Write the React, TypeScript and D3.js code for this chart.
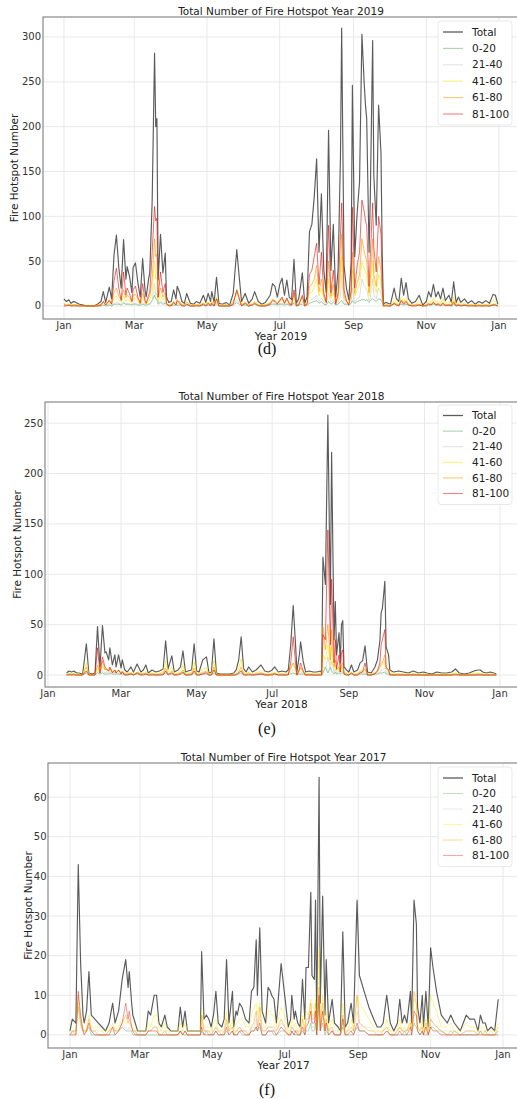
import React from "react";
import * as d3 from "d3";

// ================= 2019 =================
const DAYS_2019 = [
  0, 2, 4, 6, 8, 10, 13, 16, 20, 25,
  28, 31, 33, 35, 38, 40, 42, 44, 46, 48,
  50, 52, 53, 55, 57, 58, 60, 62, 64, 66,
  68, 69, 71, 72, 74, 76, 77, 78, 79, 81,
  83, 85, 86, 88, 90, 92, 94, 95, 97, 99,
  101, 103, 106, 109, 111, 114, 117, 119, 121, 123,
  124, 126, 128, 130, 133, 136, 139, 142, 145, 147,
  149, 152, 155, 158, 160, 163, 166, 169, 173, 175,
  177, 179, 181, 183, 185, 187, 189, 191, 193, 195,
  197, 200, 202, 204, 206, 208, 210, 212, 214, 216,
  218, 220, 222, 224, 226, 228, 230, 232, 233, 235,
  237, 239, 241, 242, 244, 246, 248, 250, 252, 253,
  254, 256, 257, 259, 260, 262, 264, 266, 267, 268,
  270, 272, 274, 277, 279, 281, 283, 285, 287, 289,
  292, 295, 298, 301, 304, 306, 308, 310, 312, 314,
  316, 318, 320, 323, 325, 327, 329, 331, 333, 336,
  339, 342, 345, 348, 351, 354, 357, 360, 362, 364,
];
const TOTAL_2019 = [
  8, 5, 7, 3, 5, 4, 2, 1, 0, 0,
  2, 5, 16, 4, 21, 8, 57, 79, 43, 20,
  74, 30, 44, 33, 15, 43, 48, 26, 10, 53,
  18, 10, 30, 37, 117, 282, 200, 209, 29, 80,
  37, 59, 10, 4, 5, 18, 8, 22, 15, 5,
  3, 14, 3, 2, 5, 3, 12, 4, 14, 5,
  16, 4, 32, 3, 2, 4, 1, 14, 63, 33,
  5, 14, 3, 8, 16, 5, 2, 4, 12, 25,
  22, 10, 24, 31, 12, 29, 10, 7, 52, 3,
  8, 37, 3, 10, 83, 91, 122, 164, 60, 125,
  40, 15, 196, 40, 91, 10, 40, 167, 310, 45,
  20, 7, 50, 246, 55, 104, 138, 303, 246, 224,
  209, 60, 119, 296, 145, 90, 224, 170, 60, 2,
  4, 3, 2, 20, 8, 5, 31, 12, 26, 8,
  3, 5, 12, 1, 5, 16, 10, 24, 10, 16,
  8, 20, 6, 12, 4, 27, 4, 10, 4, 8,
  3, 6, 2, 5, 3, 6, 3, 13, 12, 2,
];
const C0_20_2019 = [
  1, 1, 1, 0, 1, 1, 1, 1, 0, 0,
  0, 0, 1, 0, 1, 0, 2, 2, 2, 1,
  3, 2, 2, 2, 1, 2, 2, 1, 1, 2,
  1, 1, 2, 2, 6, 12, 8, 7, 2, 4,
  2, 3, 1, 1, 1, 1, 1, 1, 1, 1,
  0, 1, 0, 0, 1, 0, 1, 0, 1, 1,
  1, 0, 2, 0, 0, 0, 0, 1, 4, 2,
  1, 1, 0, 1, 2, 1, 0, 0, 1, 2,
  2, 1, 2, 2, 1, 2, 1, 1, 3, 0,
  1, 2, 0, 1, 3, 4, 5, 6, 3, 5,
  2, 1, 5, 2, 4, 1, 2, 5, 6, 2,
  2, 1, 3, 6, 3, 5, 6, 7, 7, 6,
  7, 4, 6, 8, 7, 5, 8, 7, 4, 0,
  1, 1, 0, 2, 1, 1, 2, 1, 2, 1,
  1, 1, 1, 0, 1, 1, 1, 2, 1, 1,
  1, 1, 1, 1, 0, 2, 0, 1, 1, 1,
  1, 1, 0, 1, 0, 1, 0, 1, 1, 0,
];
const C21_40_2019 = [
  2, 1, 2, 1, 1, 1, 0, 0, 0, 0,
  0, 1, 1, 1, 2, 1, 3, 4, 3, 2,
  4, 2, 3, 2, 1, 3, 3, 2, 1, 3,
  2, 1, 2, 3, 6, 25, 12, 14, 3, 6,
  3, 5, 1, 1, 1, 2, 2, 2, 2, 1,
  1, 2, 1, 1, 1, 1, 2, 1, 2, 1,
  2, 1, 4, 1, 1, 1, 1, 2, 7, 4,
  1, 2, 1, 1, 2, 1, 1, 1, 2, 3,
  3, 1, 3, 3, 2, 3, 1, 1, 5, 1,
  1, 4, 1, 1, 6, 7, 9, 12, 5, 9,
  4, 2, 15, 4, 7, 1, 4, 12, 35, 4,
  2, 1, 4, 20, 5, 8, 10, 30, 22, 20,
  18, 6, 9, 30, 12, 8, 20, 14, 6, 1,
  1, 1, 0, 3, 1, 1, 4, 2, 3, 1,
  1, 1, 2, 0, 1, 3, 2, 3, 2, 3,
  2, 3, 1, 2, 1, 4, 1, 2, 1, 2,
  1, 1, 0, 1, 1, 1, 1, 2, 2, 0,
];
const C41_60_2019 = [
  3, 2, 2, 1, 2, 1, 1, 0, 0, 0,
  1, 1, 4, 1, 5, 2, 9, 11, 7, 4,
  11, 5, 7, 6, 3, 8, 8, 5, 2, 9,
  3, 2, 5, 6, 15, 50, 30, 32, 5, 12,
  6, 10, 2, 1, 2, 5, 2, 5, 4, 2,
  1, 5, 1, 1, 2, 1, 4, 2, 4, 2,
  5, 2, 10, 1, 1, 2, 0, 5, 18, 10,
  2, 4, 1, 3, 5, 2, 1, 2, 4, 7,
  6, 3, 7, 8, 3, 7, 3, 2, 12, 1,
  3, 9, 1, 3, 15, 15, 22, 30, 11, 20,
  8, 4, 30, 8, 15, 3, 8, 28, 55, 9,
  4, 2, 10, 40, 11, 18, 24, 50, 40, 38,
  35, 11, 20, 50, 25, 15, 35, 28, 10, 1,
  1, 1, 1, 7, 3, 2, 10, 4, 9, 3,
  1, 2, 5, 0, 2, 6, 4, 9, 4, 6,
  3, 8, 2, 5, 2, 10, 2, 4, 2, 3,
  1, 2, 1, 2, 1, 2, 1, 6, 5, 1,
];
const C61_80_2019 = [
  2, 1, 1, 1, 1, 1, 0, 0, 0, 0,
  1, 2, 5, 1, 7, 3, 15, 20, 11, 7,
  18, 9, 12, 9, 5, 12, 13, 8, 3, 14,
  6, 3, 9, 11, 30, 75, 55, 58, 9, 20,
  10, 15, 3, 1, 1, 5, 2, 7, 5, 1,
  1, 4, 1, 0, 1, 1, 3, 1, 4, 1,
  4, 1, 8, 1, 0, 1, 0, 4, 16, 9,
  1, 4, 1, 2, 4, 1, 0, 1, 3, 7,
  6, 3, 6, 8, 3, 8, 3, 2, 14, 1,
  2, 10, 1, 3, 22, 24, 30, 45, 16, 30,
  11, 4, 50, 11, 24, 3, 11, 42, 80, 12,
  5, 2, 13, 60, 14, 26, 35, 75, 60, 55,
  50, 15, 30, 75, 35, 22, 55, 40, 15, 0,
  1, 0, 0, 4, 2, 1, 7, 3, 6, 2,
  0, 1, 2, 0, 1, 3, 2, 5, 2, 3,
  1, 4, 1, 2, 1, 6, 1, 2, 0, 1,
  0, 1, 0, 1, 0, 1, 0, 2, 2, 0,
];
const C81_100_2019 = [
  0, 0, 1, 0, 0, 0, 0, 0, 0, 0,
  0, 1, 5, 1, 6, 2, 28, 42, 20, 6,
  38, 12, 20, 14, 5, 18, 22, 10, 3, 25,
  6, 3, 12, 15, 60, 111, 95, 98, 10, 38,
  15, 25, 3, 0, 0, 4, 1, 6, 3, 0,
  0, 2, 0, 0, 0, 0, 2, 0, 3, 0,
  3, 0, 8, 0, 0, 0, 0, 2, 18, 8,
  0, 3, 0, 1, 3, 0, 0, 0, 2, 6,
  5, 2, 6, 10, 3, 9, 2, 1, 18, 0,
  1, 12, 0, 2, 35, 40, 55, 70, 24, 60,
  15, 4, 90, 15, 40, 2, 15, 80, 115, 18,
  6, 1, 18, 110, 20, 45, 60, 118, 105, 95,
  90, 22, 55, 115, 65, 38, 100, 80, 25, 0,
  0, 0, 0, 3, 1, 0, 6, 2, 5, 1,
  0, 0, 1, 0, 0, 2, 1, 4, 1, 2,
  0, 3, 0, 1, 0, 4, 0, 1, 0, 1,
  0, 0, 0, 0, 0, 0, 0, 1, 1, 0,
];

// ================= 2018 =================
const DAYS_2018 = [
  15, 17, 19, 21, 23, 25, 28, 31, 33, 36,
  38, 40, 42, 44, 46, 47, 49, 50, 52, 54,
  55, 57, 59, 60, 62, 64, 67, 69, 72, 75,
  77, 79, 81, 84, 87, 90, 93, 95, 97, 100,
  102, 105, 107, 109, 111, 113, 116, 118, 120, 122,
  125, 127, 128, 130, 132, 134, 136, 139, 143, 147,
  150, 152, 154, 156, 158, 160, 162, 165, 168, 172,
  175, 178, 181, 183, 186, 189, 192, 194, 196, 198,
  200, 201, 203, 204, 206, 208, 211, 214, 217, 220,
  221, 222, 224, 226, 228, 229, 231, 232, 233, 235,
  236, 237, 238, 239, 241, 243, 245, 247, 250, 252,
  254, 256, 258, 261, 264, 266, 268, 269, 270, 272,
  273, 275, 276, 279, 283, 287, 291, 295, 299, 303,
  306, 310, 314, 318, 322, 326, 329, 332, 336, 340,
  344, 347, 349, 351, 354, 357, 360, 362,
];
const TOTAL_2018 = [
  2, 4, 3, 4, 2, 2, 1, 31, 2, 1,
  2, 48, 8, 49, 22, 23, 15, 27, 10, 20,
  8, 20, 7, 15, 5, 3, 8, 3, 11, 3,
  5, 10, 2, 5, 3, 4, 6, 34, 6, 19,
  3, 5, 8, 24, 3, 4, 5, 31, 4, 3,
  15, 17, 18, 2, 3, 36, 2, 1, 1, 1,
  2, 5, 15, 38, 6, 3, 8, 3, 5, 10,
  4, 3, 5, 8, 3, 4, 3, 5, 30, 69,
  28, 3, 20, 33, 14, 3, 4, 3, 3, 4,
  2, 117, 90, 258, 70, 221, 35, 73, 20, 42,
  12, 50, 54, 8, 5, 3, 10, 3, 5, 12,
  14, 29, 3, 2, 8, 15, 34, 62, 66, 93,
  28, 20, 5, 3, 4, 3, 2, 4, 2, 3,
  2, 1, 3, 2, 2, 3, 6, 2, 1, 2,
  4, 5, 5, 3, 2, 3, 2, 1,
];
const C0_20_2018 = [
  0, 1, 1, 1, 0, 0, 0, 2, 0, 0,
  0, 2, 1, 2, 1, 1, 1, 2, 1, 1,
  1, 1, 1, 1, 0, 0, 1, 0, 1, 0,
  1, 1, 0, 1, 0, 0, 1, 2, 1, 1,
  0, 1, 1, 2, 0, 0, 1, 2, 0, 0,
  1, 1, 1, 0, 0, 2, 0, 0, 0, 0,
  0, 1, 1, 2, 1, 0, 1, 0, 1, 1,
  0, 0, 1, 1, 0, 0, 0, 1, 1, 2,
  1, 0, 1, 1, 1, 0, 0, 0, 0, 0,
  0, 2, 8, 2, 8, 4, 1, 3, 1, 2,
  1, 2, 2, 1, 0, 0, 1, 0, 0, 1,
  1, 1, 0, 0, 1, 1, 2, 2, 2, 3,
  1, 1, 0, 0, 0, 0, 0, 0, 0, 0,
  0, 0, 0, 0, 0, 0, 1, 0, 0, 0,
  0, 0, 0, 0, 0, 0, 0, 0,
];
const C21_40_2018 = [
  1, 1, 1, 1, 0, 1, 0, 4, 1, 0,
  0, 3, 1, 4, 2, 3, 2, 3, 1, 3,
  1, 2, 1, 2, 1, 1, 1, 1, 2, 1,
  1, 2, 1, 1, 1, 1, 1, 5, 1, 3,
  1, 1, 1, 3, 1, 1, 1, 4, 1, 1,
  2, 3, 3, 1, 1, 5, 1, 0, 0, 0,
  1, 1, 2, 5, 1, 1, 1, 1, 1, 2,
  1, 1, 1, 1, 1, 1, 1, 1, 3, 5,
  3, 1, 2, 3, 2, 1, 1, 1, 1, 1,
  1, 8, 6, 18, 5, 14, 3, 6, 2, 4,
  1, 4, 4, 1, 1, 1, 2, 1, 1, 2,
  2, 2, 1, 1, 1, 2, 3, 5, 5, 7,
  3, 2, 1, 1, 1, 1, 0, 1, 0, 1,
  0, 0, 1, 0, 0, 1, 1, 0, 0, 0,
  1, 1, 1, 1, 0, 1, 0, 0,
];
const C41_60_2018 = [
  1, 1, 1, 1, 1, 1, 0, 12, 1, 0,
  1, 6, 2, 9, 5, 6, 4, 6, 3, 5,
  2, 5, 2, 4, 2, 1, 3, 1, 3, 1,
  2, 4, 1, 2, 1, 2, 3, 14, 3, 8,
  1, 2, 3, 10, 1, 2, 2, 13, 2, 1,
  6, 7, 7, 1, 1, 14, 1, 0, 0, 0,
  1, 2, 6, 16, 3, 1, 3, 1, 2, 4,
  1, 1, 2, 3, 1, 2, 1, 2, 8, 12,
  6, 1, 5, 8, 4, 1, 2, 1, 1, 2,
  1, 20, 15, 30, 10, 28, 6, 10, 4, 6,
  3, 8, 8, 2, 2, 1, 3, 1, 2, 4,
  4, 6, 1, 1, 3, 4, 8, 10, 10, 14,
  6, 5, 2, 1, 1, 1, 1, 1, 1, 1,
  1, 0, 1, 1, 1, 1, 2, 1, 0, 1,
  2, 2, 2, 1, 1, 1, 1, 0,
];
const C61_80_2018 = [
  0, 1, 0, 1, 0, 0, 0, 8, 0, 0,
  0, 10, 2, 14, 5, 6, 4, 7, 3, 5,
  2, 5, 2, 4, 1, 1, 2, 0, 3, 1,
  1, 2, 0, 1, 0, 1, 1, 7, 1, 4,
  0, 1, 2, 5, 0, 1, 1, 7, 1, 0,
  3, 3, 4, 0, 1, 8, 0, 0, 0, 0,
  0, 1, 3, 8, 1, 0, 2, 0, 1, 2,
  1, 0, 1, 2, 0, 1, 0, 1, 6, 12,
  6, 0, 4, 7, 3, 0, 1, 0, 0, 1,
  0, 48, 25, 50, 15, 45, 8, 15, 5, 8,
  3, 10, 12, 2, 1, 0, 2, 0, 1, 3,
  3, 6, 0, 0, 2, 4, 8, 12, 12, 20,
  6, 4, 1, 0, 1, 0, 0, 1, 0, 0,
  0, 0, 0, 0, 0, 0, 1, 0, 0, 0,
  0, 1, 1, 0, 0, 0, 0, 0,
];
const C81_100_2018 = [
  0, 0, 0, 0, 0, 0, 0, 4, 0, 0,
  0, 27, 2, 18, 8, 6, 4, 8, 2, 5,
  2, 5, 1, 3, 0, 0, 1, 0, 2, 0,
  0, 1, 0, 0, 0, 0, 0, 4, 0, 2,
  0, 0, 1, 3, 0, 0, 0, 4, 0, 0,
  1, 2, 2, 0, 0, 5, 0, 0, 0, 0,
  0, 0, 2, 4, 0, 0, 0, 0, 0, 1,
  0, 0, 0, 1, 0, 0, 0, 0, 12, 38,
  10, 0, 6, 12, 4, 0, 0, 0, 0, 0,
  0, 40, 35, 144, 30, 95, 12, 35, 6, 20,
  3, 22, 25, 1, 0, 0, 2, 0, 0, 2,
  3, 12, 0, 0, 1, 4, 12, 30, 35, 45,
  8, 5, 0, 0, 0, 0, 0, 0, 0, 0,
  0, 0, 0, 0, 0, 0, 0, 0, 0, 0,
  0, 0, 0, 0, 0, 0, 0, 0,
];

// ================= 2017 =================
const DAYS_2017 = [
  0, 2, 5, 7, 9, 11, 12, 14, 16, 18,
  21, 24, 27, 30, 33, 36, 38, 41, 44, 47,
  49, 50, 52, 53, 55, 57, 60, 64, 66, 68,
  71, 73, 75, 77, 80, 82, 85, 88, 91, 93,
  95, 97, 99, 103, 107, 110, 111, 113, 115, 117,
  119, 121, 123, 125, 128, 130, 132, 134, 137, 138,
  140, 141, 143, 145, 148, 151, 153, 155, 157, 158,
  160, 162, 165, 167, 169, 170, 172, 174, 178, 181,
  184, 186, 187, 189, 190, 192, 194, 196, 198, 199,
  201, 203, 204, 206, 207, 208, 210, 211, 213, 215,
  216, 218, 221, 223, 226, 228, 230, 232, 234, 237,
  239, 242, 244, 248, 252, 256, 259, 262, 264, 267,
  270, 273, 276, 278, 280, 282, 284, 287, 288, 290,
  292, 293, 295, 297, 298, 300, 302, 304, 306, 309,
  313, 318, 321, 324, 329, 334, 337, 341, 344, 346,
  348, 350, 352, 355, 358, 361,
];
const TOTAL_2017 = [
  1, 4, 3, 43, 18, 5, 3, 6, 16, 5,
  4, 3, 2, 1, 3, 8, 3, 6, 14, 19,
  12, 16, 8, 5, 3, 1, 1, 1, 6, 5,
  10, 10, 3, 2, 5, 2, 1, 1, 1, 7,
  2, 6, 1, 1, 1, 1, 21, 4, 5, 4,
  2, 5, 11, 3, 2, 4, 19, 3, 11, 2,
  6, 5, 8, 7, 4, 3, 11, 12, 24, 10,
  27, 6, 3, 12, 11, 10, 9, 3, 18, 10,
  2, 4, 10, 4, 6, 3, 2, 14, 4, 17,
  17, 36, 15, 14, 34, 3, 65, 8, 35, 5,
  19, 3, 9, 3, 2, 1, 26, 2, 3, 8,
  3, 34, 15, 11, 7, 4, 2, 2, 3, 10,
  3, 1, 3, 9, 3, 5, 3, 11, 3, 34,
  28, 7, 3, 10, 2, 11, 2, 22, 17, 11,
  5, 3, 5, 3, 1, 5, 4, 4, 1, 5,
  3, 3, 1, 2, 1, 9,
];
const C0_20_2017 = [
  0, 1, 1, 7, 3, 1, 1, 1, 2, 0,
  0, 0, 0, 0, 0, 0, 0, 1, 2, 1,
  1, 1, 1, 0, 0, 0, 0, 0, 0, 0,
  0, 0, 0, 0, 0, 0, 0, 0, 0, 1,
  0, 0, 0, 0, 0, 0, 1, 0, 1, 0,
  0, 0, 1, 0, 0, 0, 1, 0, 1, 0,
  0, 0, 1, 0, 0, 0, 1, 1, 2, 1,
  2, 0, 0, 1, 1, 1, 0, 0, 1, 1,
  0, 0, 1, 0, 0, 0, 0, 1, 0, 1,
  1, 3, 1, 1, 3, 0, 8, 1, 3, 0,
  1, 0, 1, 0, 0, 0, 2, 0, 0, 0,
  0, 2, 1, 1, 0, 0, 0, 0, 0, 1,
  0, 0, 0, 0, 0, 1, 0, 0, 0, 3,
  2, 1, 0, 1, 0, 0, 0, 2, 2, 1,
  1, 0, 0, 1, 0, 0, 0, 0, 0, 1,
  0, 0, 0, 0, 0, 1,
];
const C21_40_2017 = [
  0, 1, 1, 7, 2, 1, 0, 1, 2, 1,
  1, 1, 1, 0, 1, 1, 1, 1, 2, 2,
  1, 2, 1, 1, 1, 0, 0, 0, 1, 1,
  2, 2, 1, 1, 1, 1, 0, 0, 0, 1,
  1, 1, 0, 0, 0, 0, 3, 1, 1, 1,
  1, 1, 2, 1, 1, 1, 3, 1, 2, 1,
  1, 1, 2, 1, 1, 1, 2, 2, 4, 2,
  5, 1, 1, 2, 2, 2, 1, 1, 3, 2,
  1, 1, 2, 1, 1, 1, 1, 2, 1, 3,
  3, 6, 2, 2, 5, 1, 10, 1, 6, 1,
  3, 1, 1, 1, 1, 0, 4, 1, 1, 1,
  1, 6, 3, 2, 2, 1, 1, 1, 1, 2,
  1, 0, 1, 2, 1, 1, 1, 2, 1, 5,
  5, 1, 1, 2, 1, 2, 1, 4, 3, 2,
  1, 1, 1, 1, 0, 1, 1, 1, 0, 1,
  1, 1, 0, 1, 0, 1,
];
const C41_60_2017 = [
  1, 1, 1, 8, 4, 1, 1, 2, 5, 2,
  2, 2, 1, 1, 1, 3, 1, 2, 4, 3,
  3, 3, 2, 2, 1, 1, 1, 1, 3, 2,
  5, 5, 2, 1, 3, 1, 1, 1, 1, 3,
  1, 3, 1, 1, 1, 1, 6, 2, 2, 2,
  1, 3, 4, 1, 1, 2, 6, 1, 4, 1,
  3, 3, 4, 4, 2, 2, 5, 7, 8, 5,
  8, 3, 2, 6, 6, 5, 5, 2, 7, 5,
  1, 2, 4, 2, 3, 1, 1, 5, 2, 6,
  5, 9, 5, 5, 9, 1, 22, 3, 10, 2,
  6, 1, 4, 2, 1, 1, 8, 1, 1, 4,
  1, 10, 8, 6, 4, 2, 1, 1, 1, 4,
  1, 1, 1, 4, 1, 2, 1, 4, 1, 9,
  8, 2, 1, 4, 1, 4, 1, 10, 8, 6,
  2, 2, 3, 1, 1, 3, 2, 2, 1, 2,
  2, 1, 1, 1, 1, 3,
];
const C61_80_2017 = [
  0, 1, 0, 10, 4, 1, 1, 1, 4, 1,
  1, 0, 0, 0, 1, 2, 1, 1, 3, 5,
  3, 4, 2, 1, 1, 0, 0, 0, 1, 1,
  2, 2, 0, 0, 1, 0, 0, 0, 0, 1,
  0, 1, 0, 0, 0, 0, 5, 1, 1, 1,
  0, 1, 2, 1, 0, 1, 4, 1, 2, 0,
  1, 1, 2, 1, 1, 0, 2, 3, 6, 2,
  7, 1, 1, 2, 2, 2, 2, 1, 4, 2,
  0, 1, 2, 1, 1, 1, 0, 4, 1, 4,
  4, 8, 4, 4, 8, 1, 12, 2, 8, 1,
  4, 1, 2, 0, 0, 0, 5, 0, 1, 2,
  1, 10, 3, 2, 1, 1, 0, 0, 1, 2,
  0, 0, 1, 2, 1, 1, 1, 3, 1, 11,
  8, 2, 1, 2, 0, 3, 0, 4, 3, 2,
  1, 0, 1, 0, 0, 1, 1, 1, 0, 1,
  0, 1, 0, 0, 0, 2,
];
const C81_100_2017 = [
  0, 0, 0, 11, 5, 1, 0, 1, 3, 1,
  0, 0, 0, 0, 0, 2, 0, 1, 3, 8,
  4, 6, 2, 1, 0, 0, 0, 0, 1, 1,
  1, 1, 0, 0, 0, 0, 0, 0, 0, 1,
  0, 1, 0, 0, 0, 0, 2, 0, 0, 0,
  0, 0, 1, 0, 0, 0, 2, 0, 1, 0,
  0, 0, 1, 1, 0, 0, 1, 1, 2, 1,
  3, 0, 0, 1, 1, 1, 1, 0, 2, 1,
  0, 0, 1, 0, 1, 0, 0, 2, 0, 2,
  3, 6, 3, 3, 6, 0, 10, 1, 6, 1,
  3, 0, 1, 0, 0, 0, 4, 0, 0, 1,
  0, 3, 1, 1, 0, 0, 0, 0, 0, 1,
  0, 0, 0, 1, 0, 0, 0, 2, 0, 6,
  5, 1, 0, 1, 0, 2, 0, 2, 1, 1,
  0, 0, 0, 0, 0, 0, 0, 0, 0, 0,
  0, 0, 0, 0, 0, 0,
];

// ================= labels =================
const SERIES_NAMES = ["Total", "0-20", "21-40", "41-60", "61-80", "81-100"];
const SERIES_COLORS = ["#1c1c1c", "#2e9a3e", "#c8c8c8", "#f7ea00", "#ff9a00", "#e3120b"];
const SERIES_OPACITY = [0.72, 0.5, 0.6, 0.6, 0.65, 0.62];
const Y_TICKS_2019 = [0, 50, 100, 150, 200, 250, 300];
const Y_TICKS_2018 = [0, 50, 100, 150, 200, 250];
const Y_TICKS_2017 = [0, 10, 20, 30, 40, 50, 60];
const Y_LABEL = "Fire Hotspot Number";

type PanelCfg = {
  year: number;
  caption: string;
  days: number[];
  series: number[][];
  yTicks: number[];
  yDomain: [number, number];
  xDomain: [number, number];
  left: number;
  right: number;
  top: number;
  bottom: number;
  yLabelX: number;
  tickGap: number;
  captionY: number;
  legendTop: number;
  legendStep: number;
  legendFirst: number;
  fade: number;
};

const PANELS: PanelCfg[] = [
  {
    year: 2019, caption: "(d)", days: DAYS_2019,
    series: [TOTAL_2019, C0_20_2019, C21_40_2019, C41_60_2019, C61_80_2019, C81_100_2019],
    yTicks: Y_TICKS_2019, yDomain: [-14.5, 322.3], xDomain: [-17.6, 381.8],
    left: 43, right: 519, top: 17, bottom: 319, yLabelX: 14, tickGap: 2, captionY: 354,
    legendTop: 21, legendStep: 16.4, legendFirst: 11, fade: 1,
  },
  {
    year: 2018, caption: "(e)", days: DAYS_2018,
    series: [TOTAL_2018, C0_20_2018, C21_40_2018, C41_60_2018, C61_80_2018, C81_100_2018],
    yTicks: Y_TICKS_2018, yDomain: [-11.9, 271], xDomain: [-2.4, 379.5],
    left: 45, right: 518, top: 402, bottom: 687, yLabelX: 17, tickGap: 2, captionY: 734,
    legendTop: 405, legendStep: 15.6, legendFirst: 10.5, fade: 1,
  },
  {
    year: 2017, caption: "(f)", days: DAYS_2017,
    series: [TOTAL_2017, C0_20_2017, C21_40_2017, C41_60_2017, C61_80_2017, C81_100_2017],
    yTicks: Y_TICKS_2017, yDomain: [-3.3, 68.6], xDomain: [-18.5, 378.5],
    left: 48, right: 519, top: 763, bottom: 1048, yLabelX: 28, tickGap: 1.5, captionY: 1095,
    legendTop: 767, legendStep: 15.5, legendFirst: 11, fade: 0.7,
  },
];

const FONT = "DejaVu Sans, Verdana, sans-serif";
const DAY_MS = 86400000;

function Panel({ cfg }: { cfg: PanelCfg }) {
  const base = new Date(cfg.year, 0, 1).getTime();
  const toDate = (d: number) => new Date(base + d * DAY_MS);
  const x = d3.scaleTime()
    .domain([toDate(cfg.xDomain[0]), toDate(cfg.xDomain[1])])
    .range([cfg.left, cfg.right]);
  const y = d3.scaleLinear().domain(cfg.yDomain).range([cfg.bottom, cfg.top]);
  const xTicks = x.ticks(d3.timeMonth.every(2) as d3.TimeInterval);
  const fmt = d3.timeFormat("%b");
  const cx = (cfg.left + cfg.right) / 2;
  const line = d3.line<number>()
    .x((_, i) => x(toDate(cfg.days[i])))
    .y((v) => y(v));
  const clipId = `clip${cfg.year}`;

  return (
    <g>
      <defs>
        <clipPath id={clipId}>
          <rect x={cfg.left} y={cfg.top} width={cfg.right - cfg.left} height={cfg.bottom - cfg.top} />
        </clipPath>
      </defs>
      <rect x={cfg.left} y={cfg.top} width={cfg.right - cfg.left} height={cfg.bottom - cfg.top} fill="#fff" />
      {xTicks.map((t, i) => (
        <line key={"gx" + i} x1={x(t)} x2={x(t)} y1={cfg.top} y2={cfg.bottom} stroke="#e6e6e6" strokeWidth={0.9} />
      ))}
      {cfg.yTicks.map((t) => (
        <line key={"gy" + t} x1={cfg.left} x2={cfg.right} y1={y(t)} y2={y(t)} stroke="#e6e6e6" strokeWidth={0.9} />
      ))}
      <g clipPath={`url(#${clipId})`}>
        {cfg.series.map((s, k) => (
          <path
            key={"s" + k}
            d={line(cfg.days.map((_, i) => s[i] ?? 0)) || ""}
            fill="none"
            stroke={SERIES_COLORS[k]}
            strokeOpacity={k === 0 ? SERIES_OPACITY[k] : SERIES_OPACITY[k] * cfg.fade}
            strokeWidth={k === 0 ? 1.15 : 1}
            strokeLinejoin="round"
          />
        ))}
      </g>
      <rect x={cfg.left} y={cfg.top} width={cfg.right - cfg.left} height={cfg.bottom - cfg.top} fill="none" stroke="#7f7f7f" strokeWidth={1.1} />
      {cfg.yTicks.map((t) => (
        <text key={"ty" + t} x={cfg.left - cfg.tickGap} y={y(t)} dy="0.35em" textAnchor="end" fontSize={10} fill="#333" fontFamily={FONT}>
          {t}
        </text>
      ))}
      {xTicks.map((t, i) => (
        <text key={"tx" + i} x={x(t)} y={cfg.bottom + 10} textAnchor="middle" fontSize={10} fill="#333" fontFamily={FONT}>
          {fmt(t)}
        </text>
      ))}
      <text x={cx} y={cfg.top - 2.5} textAnchor="middle" fontSize={10.5} fill="#222" fontFamily={FONT}>
        {`Total Number of Fire Hotspot Year ${cfg.year}`}
      </text>
      <text x={cx} y={cfg.bottom + 21} textAnchor="middle" fontSize={10.5} fill="#222" fontFamily={FONT}>
        {`Year ${cfg.year}`}
      </text>
      <text
        transform={`translate(${cfg.yLabelX},${(cfg.top + cfg.bottom) / 2}) rotate(-90)`}
        textAnchor="middle" dy="0.35em" fontSize={10.5} fill="#222" fontFamily={FONT}
      >
        {Y_LABEL}
      </text>
      <g>
        <rect x={438} y={cfg.legendTop} width={74} height={cfg.legendFirst + cfg.legendStep * 5 + 11} rx={3}
          fill="#fff" fillOpacity={0.85} stroke="#e3e3e3" strokeWidth={0.8} />
        {SERIES_NAMES.map((n, k) => {
          const ly = cfg.legendTop + cfg.legendFirst + k * cfg.legendStep;
          return (
            <g key={"lg" + k}>
              <line x1={443} x2={463} y1={ly} y2={ly} stroke={SERIES_COLORS[k]}
                strokeOpacity={k === 0 ? SERIES_OPACITY[k] : SERIES_OPACITY[k] * 0.85 * cfg.fade}
                strokeWidth={k === 0 ? 1.3 : 1.1} />
              <text x={472} y={ly} dy="0.35em" fontSize={10.5} fill="#222" fontFamily={FONT}>{n}</text>
            </g>
          );
        })}
      </g>
      <text x={267} y={cfg.captionY} textAnchor="middle" fontSize={16} fill="#111" fontFamily="Liberation Serif, Times New Roman, serif">
        {cfg.caption}
      </text>
    </g>
  );
}

export default function App() {
  return (
    <svg width={517} height={1099} style={{ position: "absolute", left: 0, top: 0, background: "#fff" }}>
      <rect width={517} height={1099} fill="#fff" />
      {PANELS.map((p) => (
        <Panel key={p.year} cfg={p} />
      ))}
    </svg>
  );
}
